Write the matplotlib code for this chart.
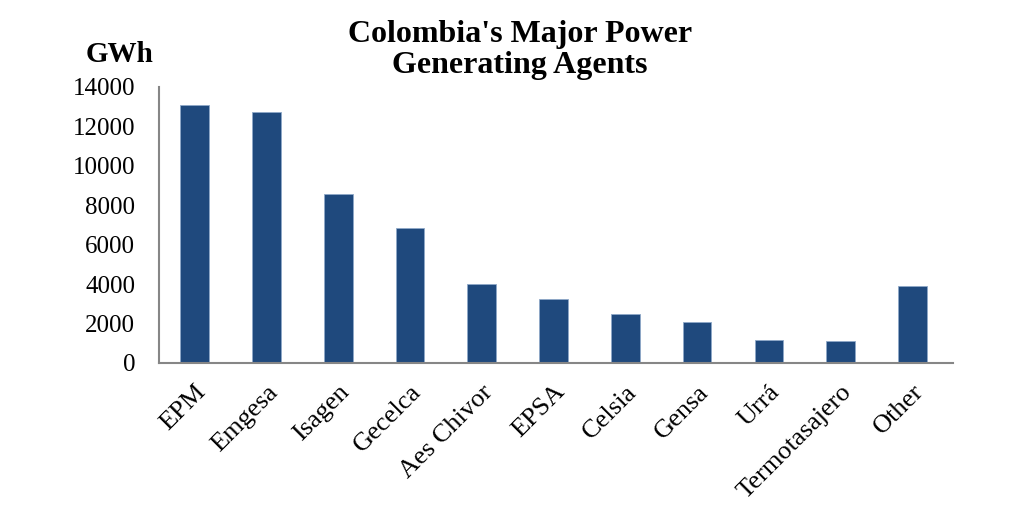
import matplotlib
matplotlib.use("Agg")
import matplotlib.pyplot as plt

# Generation by agent (GWh)
agents = ['EPM', 'Emgesa', 'Isagen', 'Gecelca', 'Aes Chivor', 'EPSA',
          'Celsia', 'Gensa', 'Urrá', 'Termotasajero', 'Other']
gwh = [13100, 12700, 8560, 6830, 3990, 3260, 2470, 2065, 1150, 1100, 3900]
yticks = [0, 2000, 4000, 6000, 8000, 10000, 12000, 14000]

plt.rcParams['font.family'] = ['Liberation Serif', 'DejaVu Serif']

fig = plt.figure(figsize=(10.31, 5.14), dpi=100)
ax = fig.add_axes([0.154, 0.294, 0.770, 0.537])

x = list(range(len(agents)))
ax.bar(x, gwh, width=0.4, color='#1F497D', edgecolor='#8FA8C8', linewidth=0.6)

ax.set_xlim(-0.5, 10.56)
ax.set_ylim(0, 14000)
ax.set_yticks(yticks)
ax.set_yticklabels([str(v) for v in yticks], fontsize=18)
ax.set_xticks(x)
ax.set_xticklabels(agents, fontsize=19, rotation=45, ha='right',
                   rotation_mode='anchor')
ax.tick_params(axis='y', length=0, pad=17)
ax.tick_params(axis='x', length=0, pad=13)

for side in ['top', 'right']:
    ax.spines[side].set_visible(False)
for side in ['left', 'bottom']:
    ax.spines[side].set_color('#868686')
    ax.spines[side].set_linewidth(1.5)

# title, two lines
fig.text(0.504, 1 - 42 / 514, "Colombia's Major Power", ha='center',
         va='baseline', fontsize=23, fontweight='bold')
fig.text(0.504, 1 - 73 / 514, "Generating Agents", ha='center',
         va='baseline', fontsize=23, fontweight='bold')
fig.text(0.1155, 1 - 62 / 514, "GWh", ha='center', va='baseline',
         fontsize=21, fontweight='bold')

fig.savefig("out.png", dpi=100)
